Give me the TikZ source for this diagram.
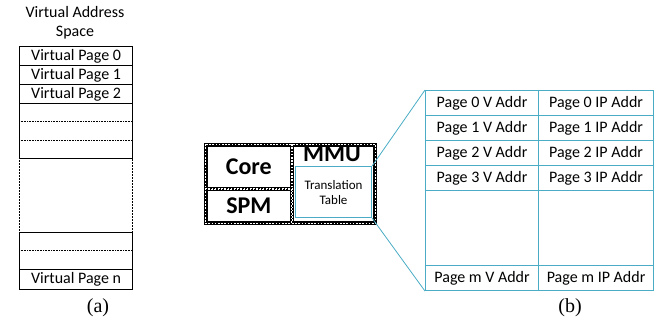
\documentclass[tikz,border=0pt]{standalone}
\usepackage{fontspec}
\setmainfont{Carlito}
\newfontfamily\capfont{Liberation Serif}
\definecolor{tealline}{RGB}{75,172,198}
\tikzset{
  pagebox/.style={draw, line width=1.2pt, minimum width=113pt, minimum height=19pt,
    inner sep=0pt, anchor=north west, font=\fontsize{16}{16}\selectfont},
  plainbox/.style={draw, line width=0.8pt, minimum width=113pt, inner sep=0pt, anchor=north west},
  sepline/.style={line width=0.6pt, densely dotted},
  cellbox/.style={draw, line width=3.6pt, inner sep=0pt, anchor=north west,
    font=\fontsize{24}{24}\selectfont\bfseries},
  whitedash/.style={white, line width=1.2pt, dash pattern=on 1.6pt off 1.6pt},
  tablecell/.style={draw=tealline, line width=1.1pt, minimum height=25pt, inner sep=0pt,
    anchor=north west, font=\fontsize{16}{16}\selectfont},
  zoomline/.style={tealline, line width=0.8pt},
  caption/.style={font=\capfont\fontsize{20}{20}\selectfont}
}
\begin{document}
\begin{tikzpicture}[x=1pt,y=-1pt]
\useasboundingbox (0,0) rectangle (670,322);

% ---------- virtual address space ----------
\node[align=center, font=\fontsize{16}{19}\selectfont] (title) at (75,23) {Virtual Address\\Space};
\node[pagebox] (vp0) at (19,46) {Virtual Page 0};
\node[pagebox] (vp1) at (19,65) {Virtual Page 1};
\node[pagebox] (vp2) at (19,84) {Virtual Page 2};
\node[plainbox, minimum height=55pt] (blkA) at (19,103) {};
\draw[sepline] (19,121) -- (132,121);
\draw[sepline] (19,140) -- (132,140);
\node[draw, densely dotted, line width=0.5pt, minimum width=113pt, minimum height=74pt,
  inner sep=0pt, anchor=north west] (gap) at (19,158) {};
\node[plainbox, minimum height=57pt] (blkB) at (19,232) {};
\draw[sepline] (19,250) -- (132,250);
\node[pagebox, minimum height=20pt] (vpn) at (19,269) {Virtual Page n};
\node[caption] (capa) at (98,308) {(a)};

% ---------- core tile ----------
\node[cellbox, minimum width=86pt, minimum height=44pt] (core) at (204,143) {Core};
\node[cellbox, minimum width=86pt, minimum height=34pt] (spm) at (204,187) {SPM};
\node[cellbox, minimum width=83pt, minimum height=78pt] (mmu) at (290,143) {};
\foreach \c in {core,spm,mmu}
  \draw[whitedash] ([shift={(1.2,1.2)}]\c.north west) rectangle ([shift={(-1.2,-1.2)}]\c.south east);
\node[font=\fontsize{24}{24}\selectfont\bfseries] (mmulabel) at (332,154) {MMU};
\node[draw=tealline, line width=1.1pt, minimum width=76pt, minimum height=51pt, inner sep=0pt,
  anchor=north west, align=center, font=\fontsize{13}{15}\selectfont] (tt) at (295,166)
  {Translation\\Table};

% ---------- translation table ----------
\foreach \r/\y in {0/90,1/115,2/140,3/165} {
  \node[tablecell, minimum width=113pt] (v\r) at (425,\y) {Page \r{} V Addr};
  \node[tablecell, minimum width=115pt] (p\r) at (538,\y) {Page \r{} IP Addr};
}
\node[draw=tealline, line width=0.5pt, minimum width=113pt, minimum height=75pt, inner sep=0pt,
  anchor=north west] (ev) at (425,190) {};
\node[draw=tealline, line width=0.5pt, minimum width=115pt, minimum height=75pt, inner sep=0pt,
  anchor=north west] (ep) at (538,190) {};
\node[tablecell, minimum width=113pt] (vm) at (425,265) {Page m V Addr};
\node[tablecell, minimum width=115pt] (pm) at (538,265) {Page m IP Addr};
\node[caption] (capb) at (570,308) {(b)};

% ---------- zoom connectors ----------
\draw[zoomline] (tt.north east) -- (v0.north west);
\draw[zoomline] (tt.south east) -- (vm.south west);
\end{tikzpicture}
\end{document}
